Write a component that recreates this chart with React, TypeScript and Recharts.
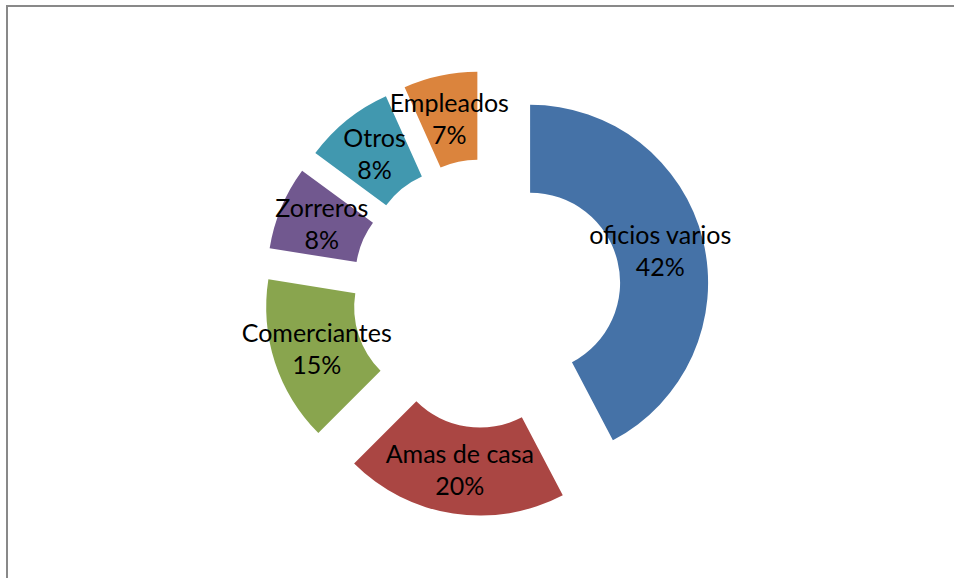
import React from 'react';
import { PieChart, Pie, Cell, Sector } from 'recharts';

const categories = ['oficios varios', 'Amas de casa', 'Comerciantes', 'Zorreros', 'Otros', 'Empleados'];
// shares (labels show them rounded)
const shares = [42.3, 20.2, 15.0, 7.6, 8.2, 6.7];
const COLORS = ['#4572A7', '#AA4643', '#89A54E', '#71588F', '#4198AF', '#DB843D'];

const data = categories.map((name, i) => ({ name, value: shares[i] }));

const RAD = Math.PI / 180;
const EXPLODE = 44.7;

// every slice is pushed out along its own bisector, like Excel's exploded doughnut
const ExplodedSlice = (props: any) => {
  const { cx, cy, midAngle } = props;
  const dx = EXPLODE * Math.cos(-midAngle * RAD);
  const dy = EXPLODE * Math.sin(-midAngle * RAD);
  return <Sector {...props} cx={cx + dx} cy={cy + dy} stroke="none" />;
};

const renderLabel = (props: any) => {
  const { cx, cy, midAngle, innerRadius, outerRadius, name, percent } = props;
  const r = EXPLODE + (innerRadius + outerRadius) / 2;
  const x = cx + r * Math.cos(-midAngle * RAD);
  const y = cy + r * Math.sin(-midAngle * RAD);
  return (
    <text x={x} y={y} textAnchor="middle" fill="#000" fontSize={25} fontFamily="Lato, 'Open Sans', sans-serif">
      <tspan x={x} dy={-7}>{name}</tspan>
      <tspan x={x} dy={32}>{Math.round(percent * 100)}%</tspan>
    </text>
  );
};

export default function App() {
  return (
    <div style={{ position: 'absolute', left: 0, top: 0, width: 954, height: 578, overflow: 'hidden', background: '#fff' }}>
      <div style={{ position: 'absolute', left: 6, top: 5, width: 980, height: 620, border: '2px solid #898989' }} />
      <div style={{ position: 'absolute', left: 0, top: 0 }}>
        <PieChart width={954} height={578} margin={{ top: 0, right: 0, bottom: 0, left: 0 }}>
          <Pie
            data={data}
            dataKey="value"
            nameKey="name"
            cx={486.7}
            cy={293.4}
            innerRadius={90}
            outerRadius={178}
            startAngle={90}
            endAngle={-270}
            stroke="none"
            activeShape={ExplodedSlice}
            inactiveShape={ExplodedSlice}
            shape={ExplodedSlice}
            label={renderLabel}
            labelLine={false}
            isAnimationActive={false}
          >
            {data.map((entry, index) => (
              <Cell key={`cell-${index}`} fill={COLORS[index]} />
            ))}
          </Pie>
        </PieChart>
      </div>
    </div>
  );
}
